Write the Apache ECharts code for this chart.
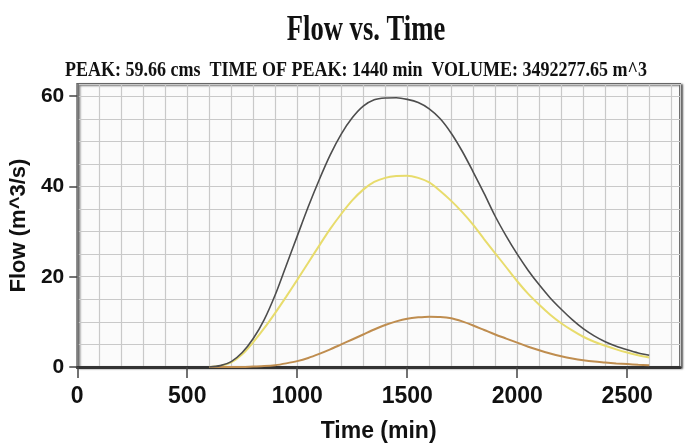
<!DOCTYPE html>
<html>
<head>
<meta charset="utf-8">
<script src="https://cdn.jsdelivr.net/npm/echarts@6/dist/echarts.min.js"></script>
<style>
html, body { margin: 0; padding: 0; background: #fff; }
#main { width: 685px; height: 448px; }
</style>
</head>
<body>
<div id="main"></div>
<script>
var times = [600, 650, 700, 750, 800, 850, 900, 950, 1000, 1050, 1100, 1150, 1200, 1250, 1300, 1350, 1400, 1450,
    1500, 1550, 1600, 1650, 1700, 1750, 1800, 1850, 1900, 1950, 2000, 2050, 2100, 2150, 2200, 2250, 2300, 2350,
    2400, 2450, 2500, 2550, 2600];
var totalFlow = [0, 0.3, 1.2, 3.2, 6.3, 10.5, 16, 22.5, 29, 35.5, 41.5, 47, 51.6, 55.2, 57.8, 59.2, 59.6, 59.65,
    59.3, 58.6, 57.2, 55.0, 51.8, 47.8, 43.2, 38.4, 33.4, 29.0, 25.0, 21.4, 18.2, 15.3, 12.8, 10.5, 8.5, 6.9,
    5.6, 4.6, 3.8, 3.1, 2.6];
var yellowFlow = [0, 0.2, 1.0, 2.8, 5.5, 8.6, 12.0, 15.6, 19.3, 23.1, 26.9, 30.6, 33.9, 36.9, 39.3, 41.0, 41.9, 42.3,
    42.4, 41.9, 40.9, 39.0, 36.8, 34.3, 31.5, 28.3, 25.2, 22.1, 19.0, 16.2, 13.8, 11.6, 9.7, 8.1, 6.7, 5.6,
    4.7, 3.9, 3.2, 2.6, 2.1];
var brownFlow = [0, 0, 0, 0, 0.1, 0.2, 0.4, 0.8, 1.3, 2.0, 2.9, 3.9, 5.0, 6.1, 7.2, 8.3, 9.3, 10.1,
    10.7, 11.0, 11.15, 11.1, 10.8, 10.1, 9.2, 8.2, 7.2, 6.3, 5.4, 4.5, 3.7, 3.0, 2.4, 1.9, 1.5, 1.2,
    1.0, 0.8, 0.65, 0.5, 0.4];
var xTicks = [0, 500, 1000, 1500, 2000, 2500];
var yTicks = [0, 20, 40, 60];

function pairs(vals) {
    var out = [];
    for (var i = 0; i < times.length; i++) out.push([times[i], vals[i]]);
    return out;
}

var labelFont = '"Liberation Sans Narrow", Arial';
var myChart = echarts.init(document.getElementById('main'));
var option = {
    backgroundColor: '#ffffff',
    animation: false,
    graphic: [
        {
            type: 'text', x: 366, y: 31, scaleX: 0.76,
            style: {
                text: 'Flow vs. Time', fill: '#111',
                font: 'bold 35px "Liberation Serif", serif',
                align: 'center', verticalAlign: 'middle'
            }
        },
        {
            type: 'text', x: 356, y: 71, scaleX: 0.9,
            style: {
                text: 'PEAK: 59.66 cms  TIME OF PEAK: 1440 min  VOLUME: 3492277.65 m^3', fill: '#111',
                font: 'bold 20px "Liberation Serif", serif',
                align: 'center', verticalAlign: 'middle'
            }
        }
    ],
    grid: {
        left: 74, right: 5, top: 84, bottom: 80,
        show: true,
        backgroundColor: '#fbfbfb',
        borderColor: '#666',
        borderWidth: 2,
        shadowColor: 'rgba(0,0,0,0.55)',
        shadowBlur: 2,
        shadowOffsetX: 2,
        shadowOffsetY: 1
    },
    xAxis: [
        {
            // grid lines every 100 min
            type: 'value', min: 0, max: 2740, interval: 100, position: 'bottom',
            axisLine: { show: false }, axisTick: { show: false }, axisLabel: { show: false },
            splitLine: { show: true, lineStyle: { color: '#c9c9c9', width: 1.2 } }
        },
        {
            type: 'value', min: 0, max: 2740, interval: 500, position: 'bottom',
            name: 'Time (min)', nameLocation: 'middle', nameGap: 53,
            nameTextStyle: { fontFamily: labelFont, fontWeight: 'bold', fontSize: 23, color: '#111' },
            axisLine: { show: true, lineStyle: { color: '#333', width: 3 } },
            axisTick: { show: true, customValues: xTicks, length: 11, lineStyle: { color: '#444', width: 1.5 } },
            axisLabel: {
                customValues: xTicks, margin: 18, formatter: function (v) { return String(v); },
                fontFamily: labelFont, fontWeight: 'bold', fontSize: 23, color: '#111'
            },
            splitLine: { show: false }
        }
    ],
    yAxis: [
        {
            // grid lines every 5 m^3/s
            type: 'value', min: 0, max: 62.7, interval: 5, position: 'left',
            axisLine: { show: false }, axisTick: { show: false }, axisLabel: { show: false },
            splitLine: { show: true, lineStyle: { color: '#c9c9c9', width: 1.2 } }
        },
        {
            type: 'value', min: 0, max: 62.7, interval: 20, position: 'left',
            name: 'Flow (m^3/s)', nameLocation: 'middle', nameGap: 44, nameRotate: 90,
            nameTextStyle: { fontFamily: 'Arial, "Liberation Sans"', fontWeight: 'bold', fontSize: 22, color: '#111' },
            axisLine: { show: true, lineStyle: { color: '#666', width: 1.5 } },
            axisTick: { show: true, customValues: yTicks, length: 8, lineStyle: { color: '#444', width: 1.5 } },
            axisLabel: {
                customValues: yTicks, margin: 13,
                fontFamily: labelFont, fontWeight: 'bold', fontSize: 21, color: '#111'
            },
            splitLine: { show: false }
        }
    ],
    series: [
        {
            name: 'Total', type: 'line', data: pairs(totalFlow), smooth: 0.3, showSymbol: false,
            lineStyle: { color: '#4d4d4d', width: 1.6 }, z: 4
        },
        {
            name: 'Yellow', type: 'line', data: pairs(yellowFlow), smooth: 0.3, showSymbol: false,
            lineStyle: { color: '#e8dc6c', width: 2 }, z: 3
        },
        {
            name: 'Brown', type: 'line', data: pairs(brownFlow), smooth: 0.3, showSymbol: false,
            lineStyle: { color: '#bf8d4f', width: 2 }, z: 3
        }
    ]
};
myChart.setOption(option);
</script>
</body>
</html>
